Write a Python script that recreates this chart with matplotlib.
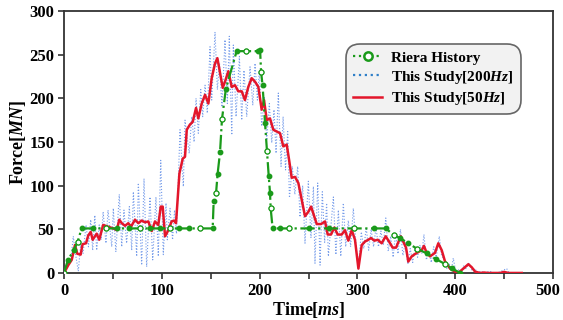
import matplotlib
matplotlib.use("Agg")
import matplotlib.pyplot as plt
import matplotlib.transforms as mtransforms
from matplotlib.lines import Line2D

plt.rcParams['font.family'] = 'Liberation Serif'
plt.rcParams['font.weight'] = 'bold'
plt.rcParams['axes.labelweight'] = 'bold'
plt.rcParams['mathtext.fontset'] = 'custom'
plt.rcParams['mathtext.rm'] = 'Liberation Serif:bold'
plt.rcParams['mathtext.it'] = 'Liberation Serif:italic:bold'

# Riera force history (ms, MN)
riera_t = [0, 4, 10, 14, 18, 30, 43, 54, 66, 78, 88, 98, 108, 118, 128, 139, 152,
           153, 155.5, 157, 159.5, 161.5, 165.5, 176.5, 186.5, 198.5, 200.5,
           201.5, 203, 205.5, 207.5, 209.3, 210.6, 211.3, 213.3, 220.6, 230.5,
           250.8, 271, 297, 317, 329, 337, 344, 352, 360.5, 370.7, 380, 389.6,
           396.4, 405]
riera_f = [0, 15, 26, 36, 51, 51, 51, 51, 51, 51, 51, 51, 51, 51, 51, 51, 51,
           82, 92, 113, 138, 176, 211, 254, 254, 254, 255,
           230, 215, 172, 140, 111, 92, 74, 51, 51, 51,
           51, 51, 51, 51, 51, 43.5, 39.7, 34, 28, 22.5, 16, 10.3,
           5.4, 0]

# This study, 200Hz
s200_t = [0, 2.5, 5, 7.5, 9.5, 12, 14.6, 17, 19.5, 22.5, 25, 27.3, 29.3, 31.5,
          33.4, 36, 38, 40, 42.9, 45, 48.8, 50.4, 53, 56.5, 59, 61.3, 64, 66.8,
          69.2, 70.9, 74.3, 76, 79.4, 81.8, 84.5, 87.9, 90.7, 94, 96.4, 98.9,
          101.5, 104.3, 105.6, 108.4, 111, 113, 115, 118.6, 122, 123.7, 128,
          130.6, 133, 135, 137.3, 139.8, 141.8, 144.2, 146.5, 149.3, 151, 154.4,
          156.8, 159, 161.5, 164.6, 167, 169, 171.5, 173.1, 175.9, 179.3, 181.7,
          184, 186.8, 190.2, 193, 195.3, 197.7, 199.7, 202.1, 204.8, 207.3,
          209.9, 212.4, 214.7, 216.8, 219.1, 221.9, 224, 226.5, 228.7, 230.5,
          233.4, 236, 238.9, 241.3, 244, 246.4, 249.8, 252.5, 255, 256.6, 259.4,
          261.8, 264.1, 266.5, 268.5, 270.3, 275.4, 278, 280.5, 283, 285.6, 288,
          290.7, 293, 295.8, 299, 301, 304, 306.5, 309, 311.5, 314, 316.5, 319,
          321.5, 324, 326.5, 329, 331.5, 334, 336.5, 339, 341.5, 344, 346.5,
          349, 351.5, 354, 356.5, 359, 361.5, 364, 366, 368, 370.5, 373, 375.5,
          378, 380.5, 383.7, 386, 389, 391.5, 394, 396, 398, 400.5, 403, 406,
          408.5, 411, 414, 417, 420, 423, 426, 430, 435, 440, 445, 449, 452.6,
          455, 460]
s200_f = [0, 6, 14, 20, 42, 20, 2, 32, 22, 55, 30, 61, 26, 66,
          26, 55, 38, 70, 34, 72, 30, 74, 24, 90, 30, 72, 34, 76,
          26, 93, 19, 103, 9, 108, 7, 87, 15, 87, 19, 129,
          21, 80, 38, 74, 38, 72, 45, 164, 99, 175, 137,
          179, 150, 200, 160, 210, 179, 215, 183, 259, 198, 276,
          210, 240, 190, 267, 194, 271, 158, 261, 179, 248, 175,
          232, 179, 236, 192, 240, 198, 231, 168, 202, 152,
          194, 149, 187, 137, 206, 122, 179, 118, 162, 86,
          122, 90, 122, 64, 100, 34, 105, 40, 99, 11, 103,
          9, 93, 35, 80, 19, 87, 21, 72, 19, 80, 30,
          60, 30, 74, 25, 8, 47, 28, 52, 26, 50, 30, 52,
          30, 48, 32, 63, 25, 42, 18, 45, 22, 50, 20,
          35, 10, 28, 12, 30, 18, 32, 22, 44, 15, 25, 12,
          30, 18, 42, 20, 15, 5, 10, 3, 17, 2, 4, 0,
          8, 5, 12, 3, 5, 0, 2, 0, 2, 0, 1, 3, 5,
          0, 0]

# This study, 50Hz
s50_t = [0, 4.4, 7.9, 11.2, 13.6, 17, 19, 22.5, 24.8, 27.3, 29.3, 33.4, 36, 40,
         45, 50.4, 54, 56.5, 59, 62.4, 65.7, 68.5, 72.6, 76, 79.4, 82.8, 86.2,
         89.7, 93, 96.4, 98.9, 100.9, 103.3, 106.7, 110, 112.5, 114.5, 118,
         121.4, 123.7, 125.5, 128.8, 131.6, 135, 137.3, 140.8, 144.2, 147.6,
         151, 154.4, 156.8, 159.5, 162.3, 164.6, 168, 171.5, 174.8, 178.2,
         181.7, 185, 188.4, 191.9, 195.3, 198.7, 202.1, 204.5, 207.3, 210.6,
         214, 217.5, 220.9, 224.2, 227.7, 230.2, 232.8, 236.2, 239.6, 243,
         246.4, 249.8, 252.6, 254.9, 258.4, 262.8, 266.9, 269.6, 273, 276.4,
         279.8, 283.9, 287.3, 290.7, 294.2, 297.5, 301, 304.4, 307.8, 311.1,
         313.9, 317.3, 320.8, 324.8, 328.9, 332.3, 336, 339.5, 344.3, 349.7,
         352, 355.5, 360.6, 365.7, 368, 370.8, 374.2, 379.3, 382.7, 386.2,
         389.6, 394.7, 399.8, 403, 408.3, 413.4, 416.9, 420.3, 425.4, 429.4,
         433.8, 439, 445.8, 450, 454.3, 459.5, 468]
s50_f = [0, 9, 15, 32, 22, 21, 33, 34, 43, 47, 38, 45, 38, 55,
         53, 51, 49, 61, 57, 54, 57, 53, 61, 57, 60, 58, 59,
         48, 59, 55, 76, 76, 42, 49, 59, 60, 57, 114,
         131, 133, 164, 170, 173, 189, 177, 194, 204, 194,
         223, 240, 246, 229, 212, 219, 231, 213, 215, 208,
         208, 198, 213, 223, 219, 213, 187, 198, 175, 177,
         164, 162, 160, 145, 147, 129, 109, 110, 103, 84,
         65, 70, 76, 68, 56, 56, 59, 44, 44, 52,
         44, 44, 49, 37, 49, 38, 5, 32, 36, 38,
         40, 37, 38, 34, 42, 36, 29, 29, 42, 29,
         13, 19, 23, 26, 31, 23, 19, 23, 34, 26,
         13, 5, 1.5, 0, 5, 10, 6.5, 1.5, 0, 0.5,
         0, 0, 0, 1.2, 0, 0, 0]

GREEN = '#1a9a1a'
RED = '#e3162b'
BLUE = '#5a88e6'

fig = plt.figure(figsize=(5.63, 3.2), dpi=100)
ax = fig.add_axes([0.1137, 0.147, 0.8686, 0.8187])

ax.plot(s200_t, s200_f, color=BLUE, lw=0.8, ls=':', alpha=0.85, zorder=2)
ax.plot(s50_t, s50_f, color=RED, lw=1.8, zorder=3)
ax.plot(riera_t, riera_f, color=GREEN, lw=1.6, ls='-.', marker='o',
        ms=3.2, mfc=GREEN, mec=GREEN, zorder=4)
ax.plot(riera_t, riera_f, ls='none', marker='o', ms=3.6, mfc='white',
        mec=GREEN, mew=0.9, markevery=3, zorder=5)

ax.set_xlim(0, 500)
ax.set_ylim(0, 300)
ax.set_xticks([0, 100, 200, 300, 400, 500])
ax.set_xticks([50, 150, 250, 350, 450], minor=True)
ax.set_yticks([0, 50, 100, 150, 200, 250, 300])
ax.tick_params(axis='both', which='major', direction='out', length=4,
               width=1.2, color='#333333', labelsize=12, pad=3)
ax.tick_params(axis='x', which='minor', direction='out', length=4,
               width=1.2, color='#333333')
for lbl in ax.get_xticklabels() + ax.get_yticklabels():
    lbl.set_fontweight('bold')
# keep the last x label inside the figure
last = ax.get_xticklabels()[-1]
last.set_transform(last.get_transform() +
                   mtransforms.ScaledTranslation(-5 / 100, 0, fig.dpi_scale_trans))
for s in ax.spines.values():
    s.set_linewidth(1.3)
    s.set_color('#333333')

ax.set_xlabel('Time[$ms$]', fontsize=13, fontweight='bold', labelpad=1)
ax.set_ylabel('Force[$MN$]', fontsize=13, fontweight='bold', labelpad=1)

handles = [
    Line2D([], [], color=GREEN, ls=':', lw=1.6, marker='o', ms=6,
           mfc='white', mec=GREEN, mew=1.8),
    Line2D([], [], color='#2f7fc8', ls=':', lw=1.6),
    Line2D([], [], color=RED, lw=1.8),
]
labels = ['Riera History', 'This Study[$200Hz$]', 'This Study[$50Hz$]']
leg = ax.legend(handles, labels, loc='upper right',
                bbox_to_anchor=(0.934, 0.874), fontsize=11, frameon=True,
                fancybox=True, handlelength=1.9, handletextpad=0.6,
                labelspacing=0.28, borderpad=0.45, borderaxespad=0)
leg.get_frame().set_boxstyle('round', pad=0, rounding_size=0.9)
frame = leg.get_frame()
frame.set_facecolor('#f2f2f2')
frame.set_edgecolor('#666666')
frame.set_linewidth(1.2)
frame.set_alpha(1)

fig.savefig('out.png', dpi=100)
